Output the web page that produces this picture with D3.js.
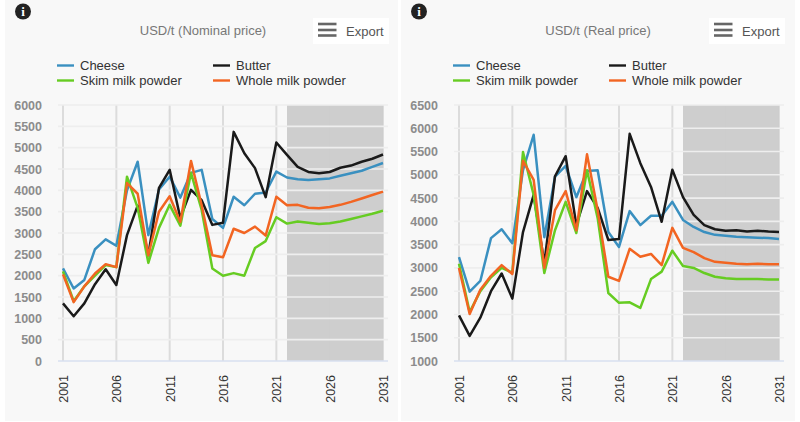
<!doctype html>
<html>
<head>
    <title>Dairy prices</title>
    <script src="https://d3js.org/d3.v7.min.js" charset="utf-8"></script>
    <style>
        html, body { margin: 0; padding: 0; background: #fff; }
        svg { display: block; font-family: "Liberation Sans", Arial, sans-serif; }
    </style>
</head>
<body>
    <script>
        var years = d3.range(2001, 2032);
        var tickYears = [2001, 2006, 2011, 2016, 2021, 2026, 2031];
        var seriesNames = ["Cheese", "Butter", "Skim milk powder", "Whole milk powder"];
        var seriesColors = ["#3a90c0", "#1a1a1a", "#66cc22", "#f26522"];

        var nominalCheese = [2170, 1700, 1900, 2620, 2850, 2700, 4000, 4670, 2950, 4020, 4320, 3830, 4410, 4480, 3330, 3120, 3850, 3650, 3920, 3950, 4440, 4300, 4260, 4240, 4260, 4280, 4340, 4400, 4460, 4550, 4640];
        var nominalButter = [1350, 1050, 1350, 1800, 2150, 1780, 2950, 3640, 2480, 4060, 4480, 3350, 4010, 3770, 3190, 3240, 5370, 4870, 4520, 3840, 5120, 4830, 4550, 4430, 4400, 4430, 4530, 4580, 4670, 4740, 4840];
        var nominalSkim = [2100, 1400, 1750, 2000, 2250, 2200, 4320, 3590, 2300, 3120, 3660, 3170, 4410, 3540, 2170, 2000, 2060, 2000, 2650, 2810, 3370, 3220, 3270, 3240, 3210, 3230, 3270, 3330, 3390, 3450, 3520];
        var nominalWhole = [2030, 1380, 1750, 2050, 2270, 2200, 4170, 3920, 2480, 3500, 3860, 3260, 4690, 3650, 2480, 2430, 3100, 3000, 3150, 2940, 3850, 3650, 3660, 3590, 3580, 3610, 3660, 3730, 3810, 3890, 3970];

        var realCheese = [3230, 2490, 2720, 3640, 3830, 3530, 5100, 5860, 3660, 4960, 5190, 4520, 5080, 5100, 3770, 3450, 4220, 3920, 4120, 4120, 4420, 4030, 3880, 3770, 3710, 3690, 3670, 3660, 3650, 3640, 3620];
        var realButter = [1980, 1540, 1930, 2500, 2880, 2340, 3770, 4570, 3100, 4970, 5400, 3920, 4650, 4290, 3600, 3620, 5880, 5250, 4740, 3990, 5110, 4520, 4140, 3920, 3830, 3800, 3810, 3780, 3800, 3780, 3770];
        var realSkim = [3090, 2050, 2500, 2800, 3000, 2900, 5490, 4570, 2890, 3810, 4420, 3750, 5100, 4070, 2460, 2250, 2260, 2140, 2760, 2920, 3370, 3040, 3000, 2890, 2810, 2780, 2760, 2760, 2760, 2750, 2750];
        var realWhole = [3000, 2010, 2530, 2830, 3060, 2870, 5300, 4890, 3000, 4240, 4650, 3810, 5440, 4240, 2810, 2720, 3410, 3240, 3300, 3060, 3860, 3430, 3340, 3210, 3130, 3110, 3090, 3080, 3090, 3080, 3080];

        var nominalTicks = d3.range(0, 6001, 500);
        var realTicks = d3.range(1000, 6501, 500);
        var forecastStart = 2022;
        var forecastEnd = 2031;

        var svg = d3.select("body").append("svg").attr("width", 800).attr("height", 422);

        function drawChart(dx, panelW, yTicks, title, titleX, values) {
            var g = svg.append("g").attr("transform", "translate(" + dx + ",0)");
            var x = d3.scaleLinear().domain([2001, 2031]).range([63, 383]);
            var y = d3.scaleLinear().domain([yTicks[0], yTicks[yTicks.length - 1]]).range([361, 105]);

            g.append("rect").attr("x", 5).attr("y", 0).attr("width", panelW).attr("height", 421).attr("fill", "#f8f8f8");

            // vertical grid goes under the forecast band, horizontal over it
            g.selectAll(".vgrid").data(tickYears).enter().append("line")
                .attr("x1", function (d) { return x(d); }).attr("x2", function (d) { return x(d); })
                .attr("y1", 105).attr("y2", 361)
                .attr("stroke", "#dcdcdc").attr("stroke-width", 2);

            g.append("rect")
                .attr("x", x(forecastStart)).attr("y", 105)
                .attr("width", x(forecastEnd) - x(forecastStart)).attr("height", 256)
                .attr("fill", "#cccccc").attr("opacity", 0.97);

            g.selectAll(".hgrid").data(yTicks.slice(1)).enter().append("line")
                .attr("x1", 58).attr("x2", 388)
                .attr("y1", function (d) { return y(d); }).attr("y2", function (d) { return y(d); })
                .attr("stroke", "#eeeeee").attr("stroke-width", 1.6);

            var yAxis = d3.axisLeft(y).tickValues(yTicks).tickSize(0).tickPadding(0).tickFormat(d3.format("d"));
            var yG = g.append("g").attr("transform", "translate(42,0)").call(yAxis);
            yG.select(".domain").remove();
            yG.selectAll("text").attr("font-size", 12.5).attr("font-weight", "bold").attr("fill", "#8c8c8c")
                .attr("font-family", "Liberation Sans");

            var xAxis = d3.axisBottom(x).tickValues(tickYears).tickSize(0).tickFormat(d3.format("d"));
            var xG = g.append("g").attr("transform", "translate(0,361)").call(xAxis);
            xG.select(".domain").remove();
            xG.selectAll("text")
                .attr("transform", "rotate(-90)")
                .attr("text-anchor", "end").attr("x", -14).attr("y", 0).attr("dy", "0.35em")
                .attr("font-size", 12.5).attr("fill", "#333").attr("font-family", "Liberation Sans");

            g.append("line").attr("x1", 58).attr("x2", 388).attr("y1", 361).attr("y2", 361)
                .attr("stroke", "#d8e0f0").attr("stroke-width", 1.6);

            var line = d3.line()
                .x(function (d, i) { return x(years[i]); })
                .y(function (d) { return y(d); });

            // drawn in legend order: cheese first, whole milk last
            values.forEach(function (v, i) {
                g.append("path").attr("d", line(v)).attr("fill", "none")
                    .attr("stroke", seriesColors[i]).attr("stroke-width", 2.5)
                    .attr("stroke-linejoin", "round");
            });

            // info icon
            g.append("circle").attr("cx", 23).attr("cy", 11.5).attr("r", 8).attr("fill", "#222");
            g.append("text").attr("x", 23).attr("y", 16).attr("text-anchor", "middle")
                .attr("font-size", 13).attr("font-weight", "bold").attr("font-family", "Liberation Serif")
                .attr("fill", "#fff").text("i");

            g.append("text").attr("x", titleX).attr("y", 34.5).attr("text-anchor", "middle")
                .attr("font-size", 13).attr("fill", "#777").text(title);

            // export button
            g.append("rect").attr("x", 313).attr("y", 18).attr("width", 76).attr("height", 26).attr("fill", "#fff");
            [24, 30, 35.5].forEach(function (ly) {
                g.append("line").attr("x1", 318).attr("x2", 336.5).attr("y1", ly).attr("y2", ly)
                    .attr("stroke", "#666").attr("stroke-width", 2.6);
            });
            g.append("text").attr("x", 346).attr("y", 35.5).attr("font-size", 13).attr("fill", "#555").text("Export");

            // legend, two columns
            var legendX = [57, 213];
            var legendY = [65.5, 80.5];
            seriesNames.forEach(function (name, i) {
                var lx = legendX[i % 2];
                var ly = legendY[Math.floor(i / 2)];
                g.append("line").attr("x1", lx).attr("x2", lx + 17).attr("y1", ly).attr("y2", ly)
                    .attr("stroke", seriesColors[i]).attr("stroke-width", 2.4);
                g.append("text").attr("x", lx + 23).attr("y", ly + 4.5).attr("font-size", 13)
                    .attr("fill", "#333").text(name);
            });
        }

        drawChart(0, 393, nominalTicks, "USD/t (Nominal price)", 203,
            [nominalCheese, nominalButter, nominalSkim, nominalWhole]);
        drawChart(396, 394, realTicks, "USD/t (Real price)", 202,
            [realCheese, realButter, realSkim, realWhole]);
    </script>
</body>
</html>
